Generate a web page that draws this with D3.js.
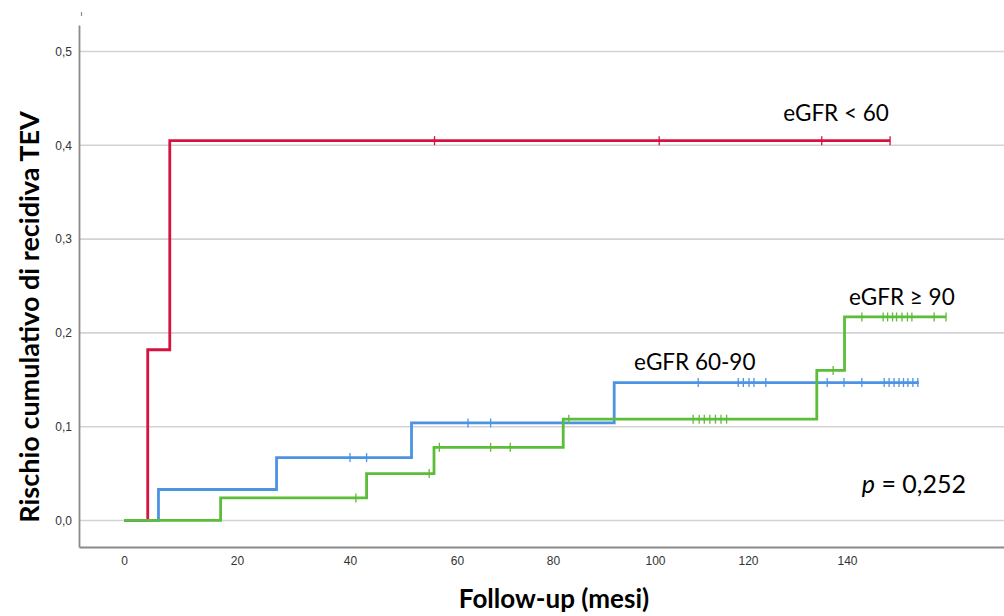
<!DOCTYPE html>
<html>
<head>
<meta charset="utf-8">
<script src="https://cdn.jsdelivr.net/npm/d3@7"></script>
<style>
  html, body { margin: 0; padding: 0; background: #fff; }
  svg { display: block; }
</style>
</head>
<body>
<svg id="chart" width="1004" height="616"></svg>
<script>
// Cumulative incidence of recurrent VTE by eGFR group (months of follow-up)
const groups = ["eGFR < 60", "eGFR 60-90", "eGFR ≥ 90"];
const groupColors = ["#d6123f", "#4c93e4", "#5bbd38"];

// eGFR < 60
const lowTimes = [0, 4.2, 8.1];
const lowRisk = [0, 0.182, 0.405];
const lowEnd = 148.7;
const lowCensored = [55.8, 100.9, 134.9, 148.7];

// eGFR 60-90
const midTimes = [0, 6.1, 27.0, 51.5, 92.0];
const midRisk = [0, 0.033, 0.067, 0.104, 0.147];
const midEnd = 154.5;
const midCensored = [40.0, 43.1, 62.3, 67.0, 109.3, 117.9, 119.0, 120.2, 121.2, 123.6,
  136.0, 139.4, 143.0, 147.5, 148.5, 149.5, 150.5, 151.4, 152.3, 153.3, 154.3];

// eGFR >= 90
const highTimes = [0, 17.1, 43.1, 55.7, 82.0, 133.9, 139.5];
const highRisk = [0, 0.024, 0.050, 0.078, 0.108, 0.160, 0.217];
const highEnd = 160.0;
const highCensored = [41.1, 54.8, 56.7, 67.0, 71.1, 83.1, 108.2, 109.5, 110.6, 111.8, 113.0,
  114.2, 115.4, 137.2, 143.0, 147.3, 148.2, 149.2, 150.0, 151.1, 152.2, 153.1, 157.6, 160.0];

const xTicks = [0, 20, 40, 60, 80, 100, 120, 140];
const yTicks = [0, 0.1, 0.2, 0.3, 0.4, 0.5];
const xTitle = "Follow-up (mesi)";
const yTitle = "Rischio cumulativo di recidiva TEV";
const pValue = "0,252";

const series = [
  { name: groups[0], color: groupColors[0], times: lowTimes, risk: lowRisk, end: lowEnd, censored: lowCensored },
  { name: groups[1], color: groupColors[1], times: midTimes, risk: midRisk, end: midEnd, censored: midCensored },
  { name: groups[2], color: groupColors[2], times: highTimes, risk: highRisk, end: highEnd, censored: highCensored }
];

const svg = d3.select("#chart");
// time axis, with breakpoints at each labelled month
const x = d3.scaleLinear()
  .domain([-8, 0, 20, 40, 60, 80, 100, 120, 140, 171.7])
  .range([79, 124, 237, 350, 457, 553, 655, 748, 847, 1004]);
const y = d3.scaleLinear().domain([-0.0283, 0.5283]).range([547, 25]);
const comma = v => d3.format(".1f")(v).replace(".", ",");
const xMin = 79, xMax = 1004;

// horizontal gridlines
svg.append("g")
  .selectAll("line")
  .data(yTicks)
  .join("line")
  .attr("x1", xMin).attr("x2", xMax)
  .attr("y1", d => y(d)).attr("y2", d => y(d))
  .attr("stroke", "#d3d3d3").attr("stroke-width", 1.6);

// axes
const yAxis = svg.append("g")
  .attr("transform", `translate(${xMin},0)`)
  .call(d3.axisLeft(y).tickValues(yTicks).tickFormat(comma).tickSize(0).tickPadding(7));
const xAxis = svg.append("g")
  .attr("transform", `translate(0,${y.range()[0]})`)
  .call(d3.axisBottom(x).tickValues(xTicks).tickFormat(d3.format("d")).tickSize(0).tickPadding(9));
[yAxis, xAxis].forEach(g => {
  g.select(".domain").attr("stroke", "#8a8a8a").attr("stroke-width", 1.8);
  g.selectAll("text")
    .attr("font-family", "'Liberation Sans', Arial, sans-serif")
    .attr("font-size", 12).attr("fill", "#333");
});

// small mark above the value axis
svg.append("line")
  .attr("x1", 81.5).attr("x2", 81.5).attr("y1", 12).attr("y2", 16)
  .attr("stroke", "#8a8a8a").attr("stroke-width", 1.2);

// step curves
const line = d3.line()
  .x(d => x(d[0]))
  .y(d => y(d[1]))
  .curve(d3.curveStepAfter);

function valueAt(s, t) {
  let v = s.risk[0];
  s.times.forEach((tt, i) => { if (tt <= t) v = s.risk[i]; });
  return v;
}

series.forEach(s => {
  const pts = s.times.map((t, i) => [t, s.risk[i]]);
  pts.push([s.end, s.risk[s.risk.length - 1]]);
  const g = svg.append("g");
  g.append("path")
    .datum(pts)
    .attr("d", line)
    .attr("fill", "none")
    .attr("stroke", s.color)
    .attr("stroke-width", 2.8)
    .attr("stroke-linejoin", "miter");
  g.selectAll("line")
    .data(s.censored)
    .join("line")
    .attr("x1", d => x(d)).attr("x2", d => x(d))
    .attr("y1", d => y(valueAt(s, d)) - 4.5)
    .attr("y2", d => y(valueAt(s, d)) + 4.5)
    .attr("stroke", s.color)
    .attr("stroke-width", 1.3);
});

// group labels
const labelFont = "Lato, 'Open Sans', sans-serif";
const labelPos = [
  { t: 127.1, v: 0.4355 },
  { t: 95.9, v: 0.169 },
  { t: 140.4, v: 0.239 }
];
series.forEach((s, i) => {
  svg.append("text")
    .attr("x", x(labelPos[i].t))
    .attr("y", y(labelPos[i].v))
    .attr("text-anchor", "start")
    .attr("dominant-baseline", "central")
    .attr("font-family", labelFont)
    .attr("font-size", 22.5)
    .attr("fill", "#000")
    .text(s.name);
});

// p-value
const pText = svg.append("text")
  .attr("x", x(143.0))
  .attr("y", y(0.040))
  .attr("text-anchor", "start")
  .attr("dominant-baseline", "central")
  .attr("font-family", labelFont)
  .attr("font-size", 25)
  .attr("fill", "#000");
pText.append("tspan").attr("font-style", "italic").text("p");
pText.append("tspan").text(" = " + pValue);

// axis titles
svg.append("text")
  .attr("x", 554)
  .attr("y", 598)
  .attr("text-anchor", "middle")
  .attr("dominant-baseline", "central")
  .attr("font-family", labelFont)
  .attr("font-weight", "bold")
  .attr("font-size", 26)
  .attr("fill", "#000")
  .text(xTitle);

svg.append("text")
  .attr("transform", "translate(28,317) rotate(-90)")
  .attr("text-anchor", "middle")
  .attr("dominant-baseline", "central")
  .attr("font-family", labelFont)
  .attr("font-weight", "bold")
  .attr("font-size", 27)
  .attr("fill", "#000")
  .text(yTitle);
</script>
</body>
</html>
